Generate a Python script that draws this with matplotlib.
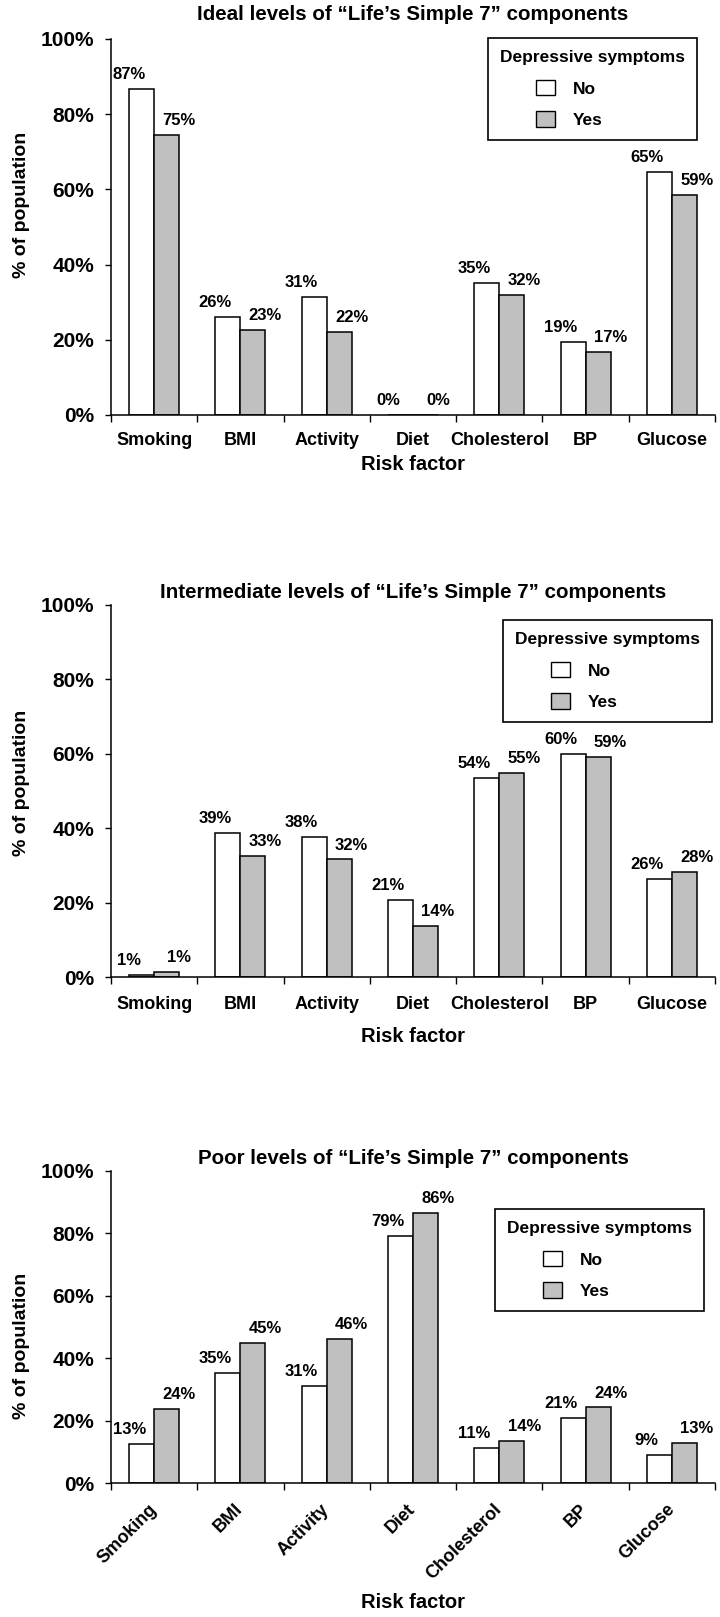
import matplotlib
matplotlib.use("Agg")
import matplotlib.pyplot as plt
from matplotlib.patches import Patch, Rectangle
from matplotlib.legend_handler import HandlerPatch
import numpy as np

plt.rcParams['font.family'] = ['Liberation Sans', 'DejaVu Sans']
plt.rcParams['font.weight'] = 'bold'

factors = ["Smoking", "BMI", "Activity", "Diet", "Cholesterol", "BP", "Glucose"]

# % of population, no / yes depressive symptoms
ideal_no = [86.8, 26.1, 31.3, 0.0, 35.2, 19.3, 64.6]
ideal_yes = [74.6, 22.6, 22.2, 0.0, 31.8, 16.7, 58.6]
inter_no = [0.6, 38.8, 37.7, 20.7, 53.6, 60.0, 26.3]
inter_yes = [1.4, 32.6, 31.6, 13.8, 54.8, 59.2, 28.3]
poor_no = [12.6, 35.4, 31.1, 79.2, 11.1, 20.7, 9.1]
poor_yes = [23.6, 44.9, 46.2, 86.4, 13.6, 24.2, 12.9]

titles = ["Ideal levels of \u201cLife\u2019s Simple 7\u201d components",
          "Intermediate levels of \u201cLife\u2019s Simple 7\u201d components",
          "Poor levels of \u201cLife\u2019s Simple 7\u201d components"]
yticks = [0, 20, 40, 60, 80, 100]

W, H = 720, 1617
fig = plt.figure(figsize=(W / 100, H / 100), dpi=100)

# layout in pixels: axes box (left, top, right, bottom), title y, ylabel y,
# xlabel y, legend upper-right corner, tick label pad, rotated labels
layout = [
    dict(box=(111, 39, 715, 415), title_y=15, ylab_y=205, xlab_y=465,
         leg=(697, 38), pad=12, rot=False),
    dict(box=(111, 605, 715, 977), title_y=592, ylab_y=783, xlab_y=1037,
         leg=(712, 620), pad=13.5, rot=False),
    dict(box=(111, 1171, 715, 1483), title_y=1158, ylab_y=1346, xlab_y=1602,
         leg=(704, 1209), pad=17, rot=True),
]
series = [(ideal_no, ideal_yes), (inter_no, inter_yes), (poor_no, poor_yes)]

x = np.arange(len(factors))
w = 0.29
grey = '#c0c0c0'


def indented_box(legend, orig_handle, xdescent, ydescent, width, height, fontsize):
    # small square pushed to the right end of a wide handle area
    pw = 1.1 * fontsize
    return Rectangle((-xdescent + width - pw, -ydescent), pw, height)


for (no, yes), title, lay in zip(series, titles, layout):
    l, t, r, b = lay['box']
    ax = fig.add_axes([l / W, 1 - b / H, (r - l) / W, (b - t) / H])
    ax.bar(x - w / 2, no, w, color='white', edgecolor='black', linewidth=1.1)
    ax.bar(x + w / 2, yes, w, color=grey, edgecolor='black', linewidth=1.1)

    for xi, v in zip(x, no):
        ax.annotate(f'{v:.0f}%', (xi - w / 2, v), xytext=(-9, 5),
                    textcoords='offset points', ha='center', va='bottom',
                    fontsize=12, fontweight='bold')
    for xi, v in zip(x, yes):
        ax.annotate(f'{v:.0f}%', (xi + w / 2, v), xytext=(9, 5),
                    textcoords='offset points', ha='center', va='bottom',
                    fontsize=12, fontweight='bold')

    ax.set_xlim(-0.5, len(factors) - 0.5)
    ax.set_ylim(0, 100)
    ax.set_yticks(yticks)
    ax.set_yticklabels([f'{v}%' for v in yticks], fontsize=15, fontweight='bold')
    ax.tick_params(axis='y', length=4, width=1, pad=8, direction='out')

    ax.set_xticks(x)
    if lay['rot']:
        ax.set_xticklabels(factors, fontsize=13, fontweight='bold', rotation=45,
                           ha='right', va='center', rotation_mode='anchor')
    else:
        ax.set_xticklabels(factors, fontsize=13, fontweight='bold')
    ax.tick_params(axis='x', which='major', length=0, pad=lay['pad'])
    ax.set_xticks(np.arange(-0.5, len(factors), 1), minor=True)
    ax.tick_params(axis='x', which='minor', length=5, width=1, direction='out')

    for s in ['top', 'right']:
        ax.spines[s].set_visible(False)
    for s in ['left', 'bottom']:
        ax.spines[s].set_linewidth(1.1)

    handles = [Patch(facecolor='white', edgecolor='black', linewidth=1),
               Patch(facecolor=grey, edgecolor='black', linewidth=1)]
    lx, ly = lay['leg']
    leg = ax.legend(handles, ['No', 'Yes'], title='Depressive symptoms',
                    loc='upper right', bbox_to_anchor=(lx / W, 1 - ly / H),
                    bbox_transform=fig.transFigure, fancybox=False,
                    edgecolor='black', framealpha=1,
                    prop=dict(weight='bold', size=12.5),
                    title_fontproperties=dict(weight='bold', size=12.5),
                    handlelength=3.2, handleheight=1.0, labelspacing=0.85,
                    borderpad=0.7, handletextpad=1.0, alignment='left',
                    borderaxespad=0,
                    handler_map={Patch: HandlerPatch(patch_func=indented_box)})
    leg.get_frame().set_linewidth(1.2)

    cx = (l + r) / 2 / W
    fig.text(cx, 1 - lay['title_y'] / H, title, ha='center', va='center',
             fontsize=14.8, fontweight='bold')
    fig.text(cx, 1 - lay['xlab_y'] / H, 'Risk factor', ha='center', va='center',
             fontsize=14.5, fontweight='bold')
    fig.text(22 / W, 1 - lay['ylab_y'] / H, '% of population', rotation=90,
             ha='center', va='center', fontsize=14, fontweight='bold')

fig.savefig('out.png', dpi=100)
